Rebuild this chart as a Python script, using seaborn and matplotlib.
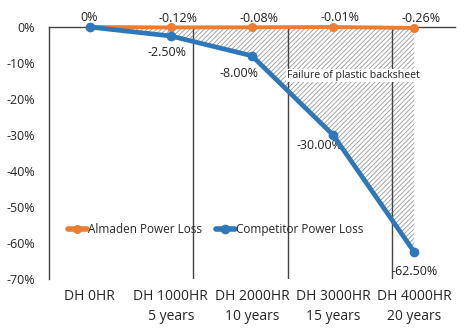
import matplotlib
matplotlib.use("Agg")
import matplotlib.pyplot as plt
import seaborn as sns
import pandas as pd
import numpy as np

categories = ["DH 0HR", "DH 1000HR\n5 years", "DH 2000HR\n10 years", "DH 3000HR\n15 years", "DH 4000HR\n20 years"]
almaden = [0.0, -0.12, -0.08, -0.01, -0.26]
competitor = [0.0, -2.50, -8.00, -30.00, -62.50]
almaden_labels = ["0%", "-0.12%", "-0.08%", "-0.01%", "-0.26%"]
competitor_labels = ["", "-2.50%", "-8.00%", "-30.00%", "-62.50%"]
yticks = [0, -10, -20, -30, -40, -50, -60, -70]
ytick_labels = ["0%", "-10%", "-20%", "-30%", "-40%", "-50%", "-60%", "-70%"]
divider_x = [1.27, 2.45, 3.72]

sns.set_style("white")
plt.rcParams['font.family'] = ['Open Sans', 'DejaVu Sans']
plt.rcParams['hatch.linewidth'] = 0.6

ORANGE = "#ED7D31"
BLUE = "#2E78BA"

pos = np.arange(len(categories))
df_a = pd.DataFrame({"pos": pos, "value": almaden})
df_c = pd.DataFrame({"pos": pos, "value": competitor})

fig = plt.figure(figsize=(4.67, 3.36), dpi=100)
ax = fig.add_axes([0.105, 0.1696, 0.869, 0.75])

ax.fill_between(pos, almaden, competitor, facecolor="none", edgecolor="#999999",
                hatch="///////", linewidth=0, zorder=1)

for xv in divider_x:
    ax.axvline(xv, color="#444444", linewidth=1, zorder=1.5)

sns.lineplot(data=df_a, x="pos", y="value", color=ORANGE, linewidth=2.8,
             marker="o", markersize=6.5, markeredgewidth=0, ax=ax, zorder=3,
             label="Almaden Power Loss", clip_on=False)
sns.lineplot(data=df_c, x="pos", y="value", color=BLUE, linewidth=3.4,
             marker="o", markersize=7, markeredgewidth=0, ax=ax, zorder=4,
             label="Competitor Power Loss", clip_on=False)

for x, y, t in zip(pos, almaden, almaden_labels):
    ax.annotate(t, (x, y), xytext=(5 if x > 0 else 0, 2), textcoords="offset points",
                ha="center", va="bottom", fontsize=9, color="#222222")
offs = [(0, 0), (-3, -7), (-9, -8), (-10, -3), (0, -9)]
for x, y, t, o in zip(pos, competitor, competitor_labels, offs):
    if not t:
        continue
    ax.annotate(t, (x, y), xytext=o, textcoords="offset points",
                ha="center", va="top", fontsize=9, color="#222222")

ax.text(3.25, -13.5, "Failure of plastic backsheet", ha="center", va="center", fontsize=7.6,
        color="#222222", bbox=dict(facecolor="white", edgecolor="none", pad=0.5), zorder=2)

ax.set_xlim(-0.5, 4.5)
ax.set_ylim(-70, 0)
ax.set_xticks(pos)
ax.set_xticklabels(categories, fontsize=10, linespacing=1.5)
ax.set_yticks(yticks)
ax.set_yticklabels(ytick_labels, fontsize=9)
ax.set_xlabel("")
ax.set_ylabel("")
ax.tick_params(axis="x", length=0, pad=7)
ax.tick_params(axis="y", length=0, pad=10)
for s in ["right", "bottom"]:
    ax.spines[s].set_visible(False)
ax.spines["top"].set_color("#444444")
ax.spines["left"].set_color("#444444")
ax.spines["top"].set_linewidth(1)
ax.spines["left"].set_linewidth(1)

leg = ax.legend(loc="center left", bbox_to_anchor=(0.02, 0.195), ncol=2, frameon=False,
                fontsize=8.5, handlelength=1.6, handletextpad=0.1, columnspacing=1.2)
for h in leg.legend_handles:
    h.set_linewidth(4)

fig.savefig("out.png", dpi=100)
